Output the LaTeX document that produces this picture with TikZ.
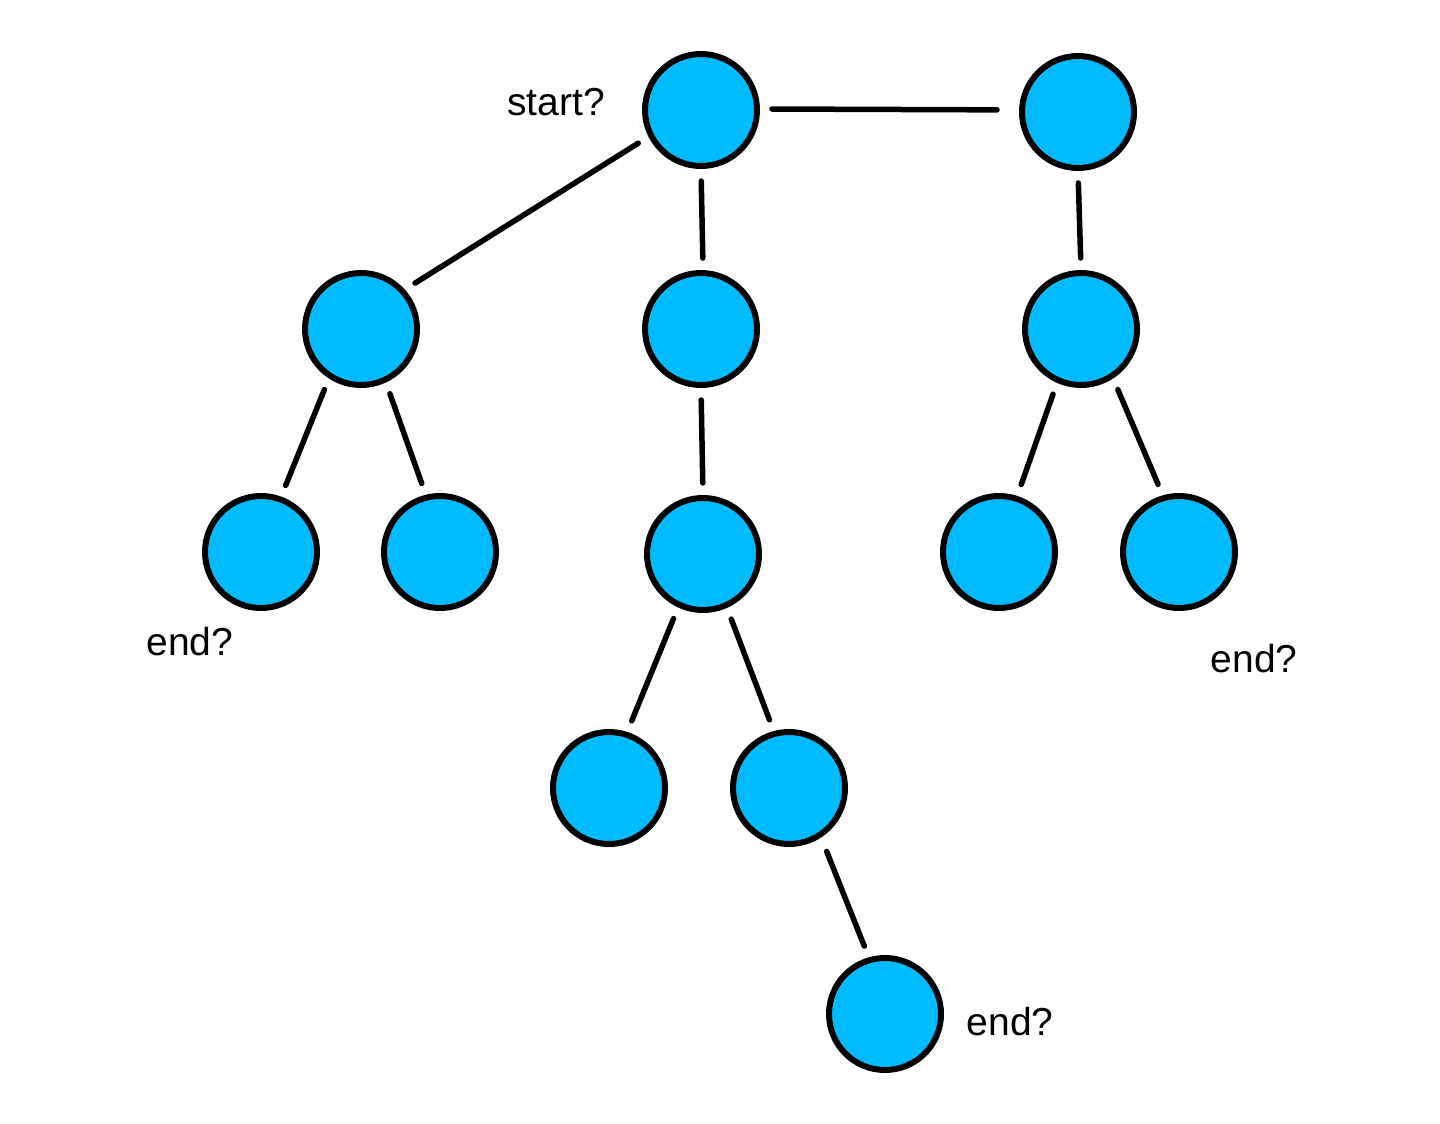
\documentclass[tikz,border=0pt]{standalone}
\usepackage{fontspec}
\setmainfont{Liberation Sans}
\definecolor{nodeblue}{RGB}{0,187,255}
\begin{document}
\begin{tikzpicture}[x=1pt,y=-1pt,
  tnode/.style={circle,draw=black,fill=nodeblue,line width=6pt,minimum size=112pt,inner sep=0pt},
  link/.style={line width=5.5pt,line cap=round,shorten <=12pt,shorten >=12pt},
  lbl/.style={font=\fontsize{39pt}{44pt}\selectfont,inner sep=0pt}]
\useasboundingbox (0,0) rectangle (1440,1124);
\node[tnode] (A) at (701,110) {};
\node[tnode] (B) at (1078,112) {};
\node[tnode] (C) at (361,329) {};
\node[tnode] (D) at (701,329) {};
\node[tnode] (E) at (1081,329) {};
\node[tnode] (F) at (261,552) {};
\node[tnode] (G) at (440,552) {};
\node[tnode] (H) at (703,554) {};
\node[tnode] (I) at (999,552) {};
\node[tnode] (J) at (1179,552) {};
\node[tnode] (K) at (609,788) {};
\node[tnode] (L) at (789,788) {};
\node[tnode] (M) at (885,1014) {};
\node[lbl] (ls) at (556,102) {start?};
\node[lbl] (le1) at (190,642) {end?};
\node[lbl] (le2) at (1254,659) {end?};
\node[lbl] (le3) at (1010,1022) {end?};
\draw[link,shorten >=22pt] (A.1.6) -- (B.178.6);
\draw[link] (A.207.7) -- (C.42.7);
\draw[link] (A.270) -- (D.88);
\draw[link] (B.270) -- (E.90);
\draw[link] (C.237.4) -- (F.70.3);
\draw[link] (C.295) -- (G.104.7);
\draw[link] (D.270) -- (H.90);
\draw[link] (E.246.3) -- (I.72.6);
\draw[link] (E.303.7) -- (J.106.6);
\draw[link] (H.245) -- (K.72.3);
\draw[link] (H.294.6) -- (L.105);
\draw[link,shorten <=15pt] (L.303.7) -- (M.106);
\end{tikzpicture}
\end{document}
